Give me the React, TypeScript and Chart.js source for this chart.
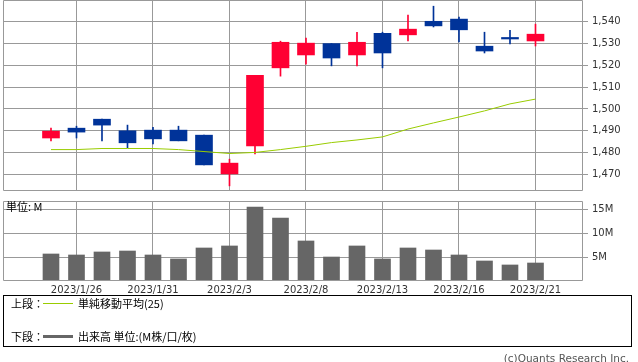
import React, { useEffect, useRef } from "react";
import { Chart, registerables } from "chart.js";

Chart.register(...registerables);

// ---------- data ----------
const dates = [
  "2023/1/25", "2023/1/26", "2023/1/27", "2023/1/30", "2023/1/31",
  "2023/2/1", "2023/2/2", "2023/2/3", "2023/2/6", "2023/2/7",
  "2023/2/8", "2023/2/9", "2023/2/10", "2023/2/13", "2023/2/14",
  "2023/2/15", "2023/2/16", "2023/2/17", "2023/2/20", "2023/2/21",
];
const labelledDates = ["2023/1/26", "2023/1/31", "2023/2/3", "2023/2/8", "2023/2/13", "2023/2/16", "2023/2/21"];

const opens = [1486.7, 1491.2, 1495.3, 1490.0, 1490.3, 1490.3, 1488.0, 1470.3, 1483.1, 1518.8, 1524.7, 1529.9, 1524.7, 1534.6, 1533.9, 1540.1, 1541.1, 1528.7, 1532.7, 1531.1];
const highs = [1491.2, 1492.1, 1495.3, 1492.6, 1491.6, 1492.1, 1488.0, 1477.0, 1515.4, 1531.0, 1532.4, 1529.9, 1535.1, 1535.1, 1542.9, 1547.0, 1542.0, 1535.1, 1536.0, 1538.8];
const lows = [1485.4, 1486.7, 1485.4, 1482.2, 1484.0, 1485.4, 1474.4, 1464.8, 1479.4, 1515.0, 1520.5, 1519.7, 1519.7, 1518.8, 1531.1, 1537.5, 1530.7, 1525.6, 1529.8, 1528.8];
const closes = [1489.8, 1489.4, 1492.6, 1484.5, 1486.3, 1485.4, 1474.4, 1475.2, 1515.4, 1530.5, 1530.1, 1523.3, 1530.5, 1525.6, 1536.5, 1538.0, 1536.2, 1526.5, 1532.0, 1534.2];
const ma25 = [1481.4, 1481.4, 1481.9, 1481.9, 1481.9, 1481.4, 1480.5, 1479.6, 1480.1, 1481.4, 1482.9, 1484.6, 1485.8, 1487.2, 1490.8, 1493.6, 1496.3, 1499.1, 1502.3, 1504.5];
const volumeM = [5.73, 5.52, 6.15, 6.35, 5.52, 4.69, 6.98, 7.40, 15.52, 13.23, 8.44, 5.10, 7.40, 4.69, 6.98, 6.56, 5.52, 4.27, 3.44, 3.85];

const priceTicks = [1470, 1480, 1490, 1500, 1510, 1520, 1530, 1540];
const volumeTicks = [5, 10, 15];

// ---------- style ----------
const RED = "#ff0033";
const BLUE = "#003399";
const GREEN = "#99cc00";
const GRID = "#999999";
const VOL = "#666666";
const X_MIN = -1.882;
const X_MAX = 20.863;
const FONT = "DejaVu Sans";
const CJK = "'Noto Sans CJK JP', sans-serif";

const framePlugin = {
  id: "frame",
  afterDraw(chart: any) {
    const { ctx, chartArea: a } = chart;
    ctx.save();
    ctx.strokeStyle = GRID;
    ctx.lineWidth = 1;
    ctx.beginPath();
    ctx.rect(a.left + 0.5, a.top + 0.5, a.right - a.left - 1, a.bottom - a.top - 1);
    ctx.stroke();
    ctx.restore();
  },
};

export default function App() {
  const topRef = useRef<HTMLCanvasElement>(null);
  const botRef = useRef<HTMLCanvasElement>(null);

  useEffect(() => {
    Chart.defaults.font.family = FONT;
    const idx = dates.map((_, i) => i);
    const tickIdx = labelledDates.map((d) => dates.indexOf(d));
    const colors = idx.map((i) => (closes[i] >= opens[i] ? RED : BLUE));

    const xScale = (showLabels: boolean, h: number) => ({
      type: "linear",
      min: X_MIN,
      max: X_MAX,
      offset: false,
      grid: { color: GRID, lineWidth: 1, drawTicks: false, offset: false },
      border: { display: false },
      ticks: {
        display: showLabels,
        padding: 3,
        autoSkip: false,
        maxRotation: 0,
        color: "#333",
        font: { family: FONT, size: 10 },
        callback: (v: any) => dates[Number(v)] ?? "",
      },
      afterBuildTicks: (s: any) => {
        s.ticks = tickIdx.map((v) => ({ value: v }));
      },
      afterFit: (s: any) => {
        s.height = h;
        s.paddingLeft = 0;
        s.paddingRight = 0;
      },
    });

    const yScale = (min: number, max: number, ticks: number[], fmt: (v: number) => string) => ({
      type: "linear",
      position: "right",
      min,
      max,
      beginAtZero: false,
      grid: { color: GRID, lineWidth: 1, drawTicks: true, tickLength: 5 },
      border: { display: false },
      ticks: {
        padding: 4,
        color: "#333",
        font: { family: FONT, size: 10 },
        callback: (v: any) => fmt(Number(v)),
      },
      afterBuildTicks: (s: any) => {
        s.ticks = ticks.map((v) => ({ value: v }));
      },
      afterFit: (s: any) => {
        s.width = 55;
        s.paddingTop = 0;
        s.paddingBottom = 0;
      },
    });

    const common = {
      responsive: false,
      maintainAspectRatio: false,
      animation: false,
      events: [],
      plugins: { legend: { display: false }, tooltip: { enabled: false } },
    };

    const top = new Chart(topRef.current as HTMLCanvasElement, {
      type: "bar",
      data: {
        datasets: [
          {
            type: "line",
            data: idx.map((i) => ({ x: i, y: ma25[i] })),
            borderColor: GREEN,
            borderWidth: 1,
            pointRadius: 0,
            tension: 0,
            order: 0,
          },
          {
            type: "bar",
            data: idx.map((i) => ({ x: i, y: [opens[i], closes[i]] })),
            backgroundColor: colors,
            borderWidth: 0,
            barThickness: 17,
            grouped: false,
            order: 1,
          },
          {
            type: "bar",
            data: idx.map((i) => ({ x: i, y: [lows[i], highs[i]] })),
            backgroundColor: colors,
            borderWidth: 0,
            barThickness: 1,
            grouped: false,
            order: 2,
          },
        ],
      } as any,
      options: {
        ...common,
        layout: { padding: { left: 3, right: 0, top: 0, bottom: 0 }, autoPadding: false },
        scales: {
          x: xScale(false, 0),
          y: yScale(1462.45, 1549.84, priceTicks, (v) => v.toLocaleString("en-US")),
        },
      } as any,
      plugins: [framePlugin],
    });

    const bot = new Chart(botRef.current as HTMLCanvasElement, {
      type: "bar",
      data: {
        datasets: [
          {
            data: idx.map((i) => ({ x: i, y: volumeM[i] })),
            backgroundColor: VOL,
            borderWidth: 0,
            barThickness: 16,
            grouped: false,
          },
        ],
      } as any,
      options: {
        ...common,
        layout: { padding: { left: 3, right: 0, top: 6, bottom: 0 }, autoPadding: false },
        scales: {
          x: xScale(true, 15),
          y: yScale(0.1, 16.77, volumeTicks, (v) => `${v}M`),
        },
      } as any,
      plugins: [framePlugin],
    });

    return () => {
      top.destroy();
      bot.destroy();
    };
  }, []);

  const abs = (s: React.CSSProperties): React.CSSProperties => ({ position: "absolute", ...s });
  const cjk: React.CSSProperties = { fontFamily: CJK, fontSize: 11, lineHeight: "12px", color: "#000", whiteSpace: "nowrap" };

  return (
    <div style={{ position: "absolute", left: 0, top: 0, width: 638, height: 362, background: "#fff", overflow: "hidden" }}>
      <canvas ref={topRef} width={638} height={191} style={abs({ left: 0, top: 0, width: 638, height: 191 })} />
      <canvas ref={botRef} width={638} height={101} style={abs({ left: 0, top: 195, width: 638, height: 101 })} />
      <div style={abs({ ...cjk, left: 6, top: 200 })}>単位: M</div>

      <div style={abs({ left: 3, top: 295, width: 629, height: 52, boxSizing: "border-box", border: "1px solid #000" })} />
      <div style={abs({ ...cjk, left: 11, top: 297 })}>上段：</div>
      <div style={abs({ left: 43, top: 303, width: 30, height: 1, background: GREEN })} />
      <div style={abs({ ...cjk, left: 78, top: 297 })}>単純移動平均(25)</div>
      <div style={abs({ ...cjk, left: 11, top: 330 })}>下段：</div>
      <div style={abs({ left: 43, top: 335, width: 30, height: 3, background: VOL })} />
      <div style={abs({ ...cjk, left: 78, top: 330 })}>出来高 単位:(M株/口/枚)</div>

      <div style={abs({ right: 9, top: 352, fontFamily: FONT, fontSize: 10.5, lineHeight: "12px", color: "#555", whiteSpace: "nowrap" })}>
        (c)Quants Research Inc.
      </div>
    </div>
  );
}
